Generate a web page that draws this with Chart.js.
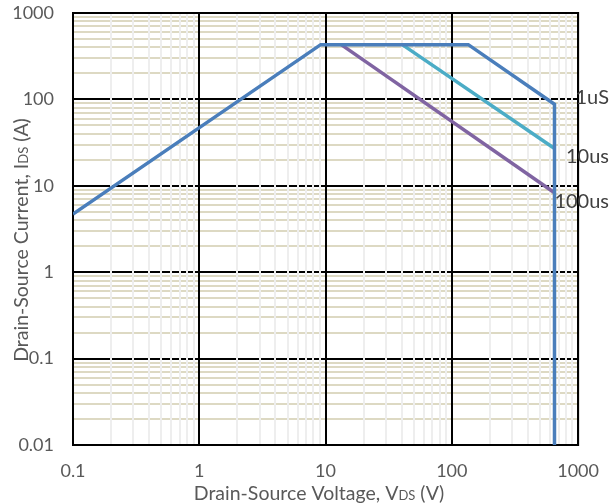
<!DOCTYPE html>
<html>
<head>
<meta charset="utf-8">
<script src="https://cdn.jsdelivr.net/npm/chart.js@4.4.1/dist/chart.umd.min.js"></script>
<style>
  html, body { margin: 0; padding: 0; background: #ffffff; }
  #wrap { width: 614px; height: 504px; }
</style>
</head>
<body>
<div id="wrap"><canvas id="soaChart" width="614" height="504"></canvas></div>
<script>
// SOA boundaries: drain-source voltage (V) vs drain current (A)
const vds1us = [0.1, 9.15, 135, 650, 650];
const ids1us = [4.7, 430, 430, 88, 0.01];
const vds10us = [40.5, 650];
const ids10us = [430, 27];
const vds100us = [13.3, 650];
const ids100us = [430, 8.3];

const pulseLabels = ["1uS", "10us", "100us"];
const xTickLabels = ["0.1", "1", "10", "100", "1000"];
const yTickLabels = ["0.01", "0.1", "1", "10", "100", "1000"];

const FONT = "Lato, 'Open Sans', sans-serif";
const TEXT = "#595959";

function toPoints(xs, ys) {
  return xs.map(function (x, i) { return { x: x, y: ys[i] }; });
}

function isDecade(v) {
  const l = Math.log10(v);
  return Math.abs(l - Math.round(l)) < 1e-6;
}

// 1..9 x 10^n between min and max, for the log grid
function logTicks(min, max) {
  const out = [];
  for (let e = Math.round(Math.log10(min)); e < Math.round(Math.log10(max)); e++) {
    for (let m = 1; m <= 9; m++) {
      out.push({ value: parseFloat((m * Math.pow(10, e)).toPrecision(6)) });
    }
  }
  out.push({ value: max });
  return out;
}

function decadeLabel(labels) {
  return function (value) {
    if (!isDecade(value)) return "";
    const hit = labels.find(function (s) { return Math.abs(parseFloat(s) - value) < value * 1e-6; });
    return hit || "";
  };
}

// solid frame round the plot area, under the curves
const frame = {
  id: "frame",
  beforeDatasetsDraw(chart) {
    const a = chart.chartArea;
    const ctx = chart.ctx;
    ctx.save();
    ctx.strokeStyle = "#000000";
    ctx.lineWidth = 2;
    ctx.strokeRect(a.left, a.top, a.right - a.left, a.bottom - a.top);
    ctx.restore();
  }
};

function drawParts(ctx, parts, x, y) {
  let w = 0;
  parts.forEach(function (p) {
    ctx.font = p.size + "px " + FONT;
    p.w = ctx.measureText(p.t).width;
    w += p.w;
  });
  let cx = x - w / 2;
  parts.forEach(function (p) {
    ctx.font = p.size + "px " + FONT;
    ctx.fillText(p.t, cx, y);
    cx += p.w;
  });
}

// axis titles with small "DS" and the pulse-width tags at the right end of each curve
const annotations = {
  id: "annotations",
  afterDraw(chart) {
    const ctx = chart.ctx;
    const ys = chart.scales.y;
    ctx.save();
    ctx.fillStyle = TEXT;
    ctx.textBaseline = "alphabetic";
    ctx.textAlign = "left";

    drawParts(ctx, [
      { t: "Drain-Source Voltage, V", size: 19.5 },
      { t: "DS", size: 13 },
      { t: " (V)", size: 19.5 }
    ], 319, 500);

    ctx.save();
    ctx.translate(28, 240);
    ctx.rotate(-Math.PI / 2);
    drawParts(ctx, [
      { t: "Drain-Source Current, I", size: 19.5 },
      { t: "DS", size: 13 },
      { t: " (A)", size: 19.5 }
    ], 0, 0);
    ctx.restore();

    const ends = [
      { i: ids1us[ids1us.length - 2], dy: -7 },
      { i: ids10us[ids10us.length - 1], dy: 8 },
      { i: ids100us[ids100us.length - 1], dy: 9 }
    ];
    ctx.font = "20px " + FONT;
    ctx.fillStyle = "#404040";
    ctx.textAlign = "right";
    ctx.textBaseline = "middle";
    ends.forEach(function (e, k) {
      ctx.fillText(pulseLabels[k], chart.width - 5, ys.getPixelForValue(e.i) + e.dy);
    });
    ctx.restore();
  }
};

const lineStyle = {
  showLine: true,
  pointRadius: 0,
  borderWidth: 3.5,
  fill: false,
  tension: 0
};

new Chart(document.getElementById("soaChart").getContext("2d"), {
  type: "scatter",
  data: {
    datasets: [
      Object.assign({ label: pulseLabels[0], data: toPoints(vds1us, ids1us), borderColor: "#4a7ebb" }, lineStyle),
      Object.assign({ label: pulseLabels[1], data: toPoints(vds10us, ids10us), borderColor: "#4bacc6" }, lineStyle),
      Object.assign({ label: pulseLabels[2], data: toPoints(vds100us, ids100us), borderColor: "#8064a2" }, lineStyle)
    ]
  },
  options: {
    responsive: false,
    devicePixelRatio: 1,
    animation: false,
    layout: { padding: { left: 0, right: 35, top: 13, bottom: 0 } },
    plugins: {
      legend: { display: false },
      tooltip: { enabled: false }
    },
    scales: {
      x: {
        type: "logarithmic",
        min: 0.1,
        max: 1000,
        afterBuildTicks: function (scale) { scale.ticks = logTicks(0.1, 1000); },
        afterFit: function (scale) { scale.height = 59; },
        border: { display: true, color: "#000000", width: 2 },
        grid: {
          z: -1,
          drawTicks: false,
          lineWidth: 2,
          color: function (c) { return c.tick && isDecade(c.tick.value) ? "#000000" : "#eeeeee"; }
        },
        ticks: {
          autoSkip: false,
          maxRotation: 0,
          padding: 15,
          color: TEXT,
          font: { family: FONT, size: 18 },
          callback: decadeLabel(xTickLabels)
        }
      },
      y: {
        type: "logarithmic",
        min: 0.01,
        max: 1000,
        afterBuildTicks: function (scale) { scale.ticks = logTicks(0.01, 1000); },
        afterFit: function (scale) {
          scale.width = 73;
          scale.paddingTop = 0;
          scale.paddingBottom = 0;
        },
        border: { display: true, color: "#000000", width: 2 },
        grid: {
          z: -2,
          drawTicks: false,
          lineWidth: 2,
          color: function (c) { return c.tick && isDecade(c.tick.value) ? "#000000" : "#ddd9c3"; }
        },
        ticks: {
          autoSkip: false,
          padding: 19,
          color: TEXT,
          font: { family: FONT, size: 18 },
          callback: decadeLabel(yTickLabels)
        }
      }
    }
  },
  plugins: [frame, annotations]
});
</script>
</body>
</html>
